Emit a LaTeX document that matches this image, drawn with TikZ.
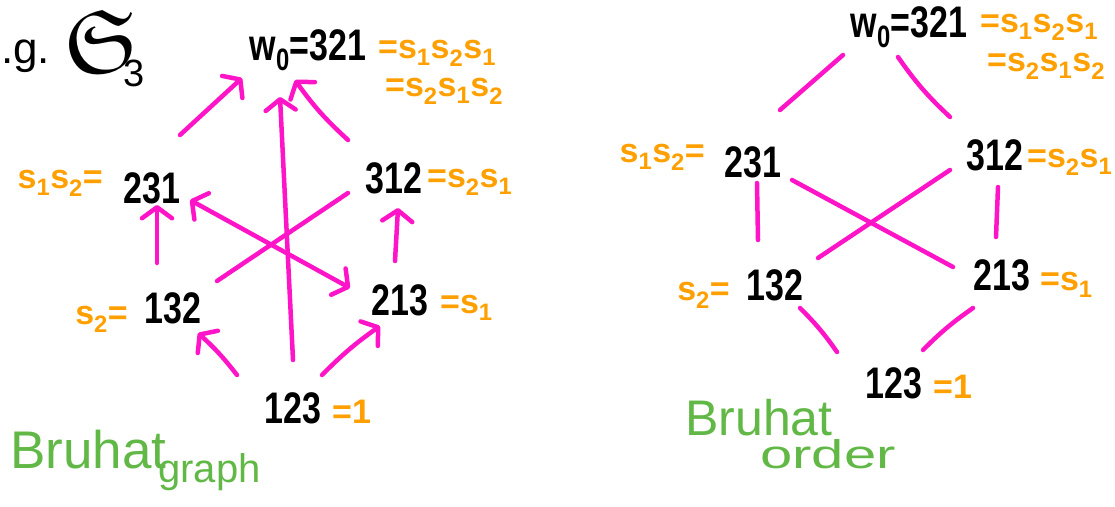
\documentclass[tikz,border=0pt]{standalone}
\usepackage{fontspec}
\setmainfont{Liberation Sans}
\usepackage{amssymb}
\usetikzlibrary{arrows.meta,calc}
\definecolor{mag}{HTML}{FF14C8}
\definecolor{org}{HTML}{FFA000}
\definecolor{grn}{HTML}{62B846}
\newcommand\tall[1]{\scalebox{1}[1.3]{#1}}
\newcommand\subs[1]{\textsubscript{#1}}
\tikzset{
  num/.style={inner sep=0pt, anchor=base, text=black, font=\fontsize{34}{40}\selectfont\bfseries},
  lab/.style={inner sep=0pt, text=org, font=\fontsize{34}{40}\selectfont\bfseries},
  ttl/.style={inner sep=0pt, anchor=base west, text=grn},
  edge/.style={draw=mag, line width=4.5pt, line cap=round},
  tip/.tip={Straight Barb[length=11pt,width=30pt,round]},
  arr/.style={edge, -tip},
  darr/.style={edge, tip-tip},
}
\begin{document}
\begin{tikzpicture}[x=1pt,y=-1pt]
\useasboundingbox (0,0) rectangle (1115,506);

% title
\node[inner sep=0pt, anchor=base west, font=\fontsize{44}{48}\selectfont] (eg) at (-23.5,63) {e.g.};
\node[inner sep=0pt, anchor=base west] (S3) at (64,72) {\scalebox{9}{$\mathfrak{S}$}\hspace{-15pt}\raisebox{-14pt}{\fontsize{38}{40}\selectfont 3}};

% ---------- left: Bruhat graph ----------
\node[num] (L321) at (308,60) {\tall{w\subs{0}=321}};
\node[num] (L231) at (152,203) {\tall{231}};
\node[num] (L312) at (394,193) {\tall{312}};
\node[num] (L132) at (173,323) {\tall{132}};
\node[num] (L213) at (400,315) {\tall{213}};
\node[num] (L123) at (293,423) {\tall{123}};

\node[lab, anchor=base west] (L321a) at (378,58) {=s\subs{1}s\subs{2}s\subs{1}};
\node[lab, anchor=base west] (L321b) at (385,96) {=s\subs{2}s\subs{1}s\subs{2}};
\node[lab, anchor=base east] (L231l) at (103,188) {s\subs{1}s\subs{2}=};
\node[lab, anchor=base west] (L312r) at (427,187) {=s\subs{2}s\subs{1}};
\node[lab, anchor=base east] (L132l) at (128,324) {s\subs{2}=};
\node[lab, anchor=base west] (L213r) at (440,313) {=s\subs{1}};
\node[lab, anchor=base west] (L123r) at (332,423) {=1};

\draw[arr] ($(L231.base)+(28,-68)$) -- ($(L321.base)+(-66,18)$);
\draw[arr] ($(L312.base)+(-46,-53)$) to[bend left=6] ($(L321.base)+(-13,20)$);
\draw[arr] ($(L123.base)+(0,-63)$) -- ($(L321.base)+(-28,37)$);
\draw[arr] ($(L132.base)+(-16,-60)$) -- ($(L231.base)+(5,2)$);
\draw[arr] ($(L213.base)+(-5,-54)$) -- ($(L312.base)+(4,15)$);
\draw[darr] ($(L213.base)+(-50,-27)$) -- ($(L231.base)+(38,-3)$);
\draw[edge] ($(L312.base)+(-46,0)$) -- ($(L132.base)+(44,-42)$);
\draw[arr] ($(L123.base)+(-56,-48)$) to[bend right=5] ($(L132.base)+(25,10)$);
\draw[arr] ($(L123.base)+(29,-48)$) to[bend left=5] ($(L213.base)+(-20,11)$);

\node[ttl, font=\fontsize{53}{58}\selectfont] (Lb) at (10,468) {Bruhat};
\node[ttl, font=\fontsize{40}{44}\selectfont] (Lg) at (158,482) {graph};

% ---------- right: Bruhat order ----------
\node[num] (R321) at (909,37) {\tall{w\subs{0}=321}};
\node[num] (R231) at (753,177) {\tall{231}};
\node[num] (R312) at (995,170) {\tall{312}};
\node[num] (R132) at (775,300) {\tall{132}};
\node[num] (R213) at (1002,290) {\tall{213}};
\node[num] (R123) at (894,398) {\tall{123}};

\node[lab, anchor=base west] (R321a) at (980,32) {=s\subs{1}s\subs{2}s\subs{1}};
\node[lab, anchor=base west] (R321b) at (987,71) {=s\subs{2}s\subs{1}s\subs{2}};
\node[lab, anchor=base east] (R231l) at (705,162) {s\subs{1}s\subs{2}=};
\node[lab, anchor=base west] (R312r) at (1027,167) {=s\subs{2}s\subs{1}};
\node[lab, anchor=base east] (R132l) at (730,300) {s\subs{2}=};
\node[lab, anchor=base west] (R213r) at (1040,290) {=s\subs{1}};
\node[lab, anchor=base west] (R123r) at (933,398) {=1};

\draw[edge] ($(R231.base)+(27,-67)$) -- ($(R321.base)+(-66,18)$);
\draw[edge] ($(R312.base)+(-45,-53)$) to[bend left=6] ($(R321.base)+(-11,20)$);
\draw[edge] ($(R231.base)+(4,6)$) -- ($(R132.base)+(-17,-60)$);
\draw[edge] ($(R312.base)+(3,17)$) -- ($(R213.base)+(-6,-53)$);
\draw[edge] ($(R231.base)+(39,3)$) -- ($(R213.base)+(-49,-23)$);
\draw[edge] ($(R132.base)+(43,-42)$) -- ($(R312.base)+(-45,0)$);
\draw[edge] ($(R132.base)+(25,8)$) to[bend left=5] ($(R123.base)+(-57,-46)$);
\draw[edge] ($(R213.base)+(-29,18)$) to[bend right=5] ($(R123.base)+(29,-48)$);

\node[ttl, font=\fontsize{50}{55}\selectfont] (Rb) at (685,435) {Bruhat};
\node[ttl, font=\fontsize{40}{44}\selectfont] (Ro) at (760,468) {\scalebox{1.45}[1]{order}};
\end{tikzpicture}
\end{document}
